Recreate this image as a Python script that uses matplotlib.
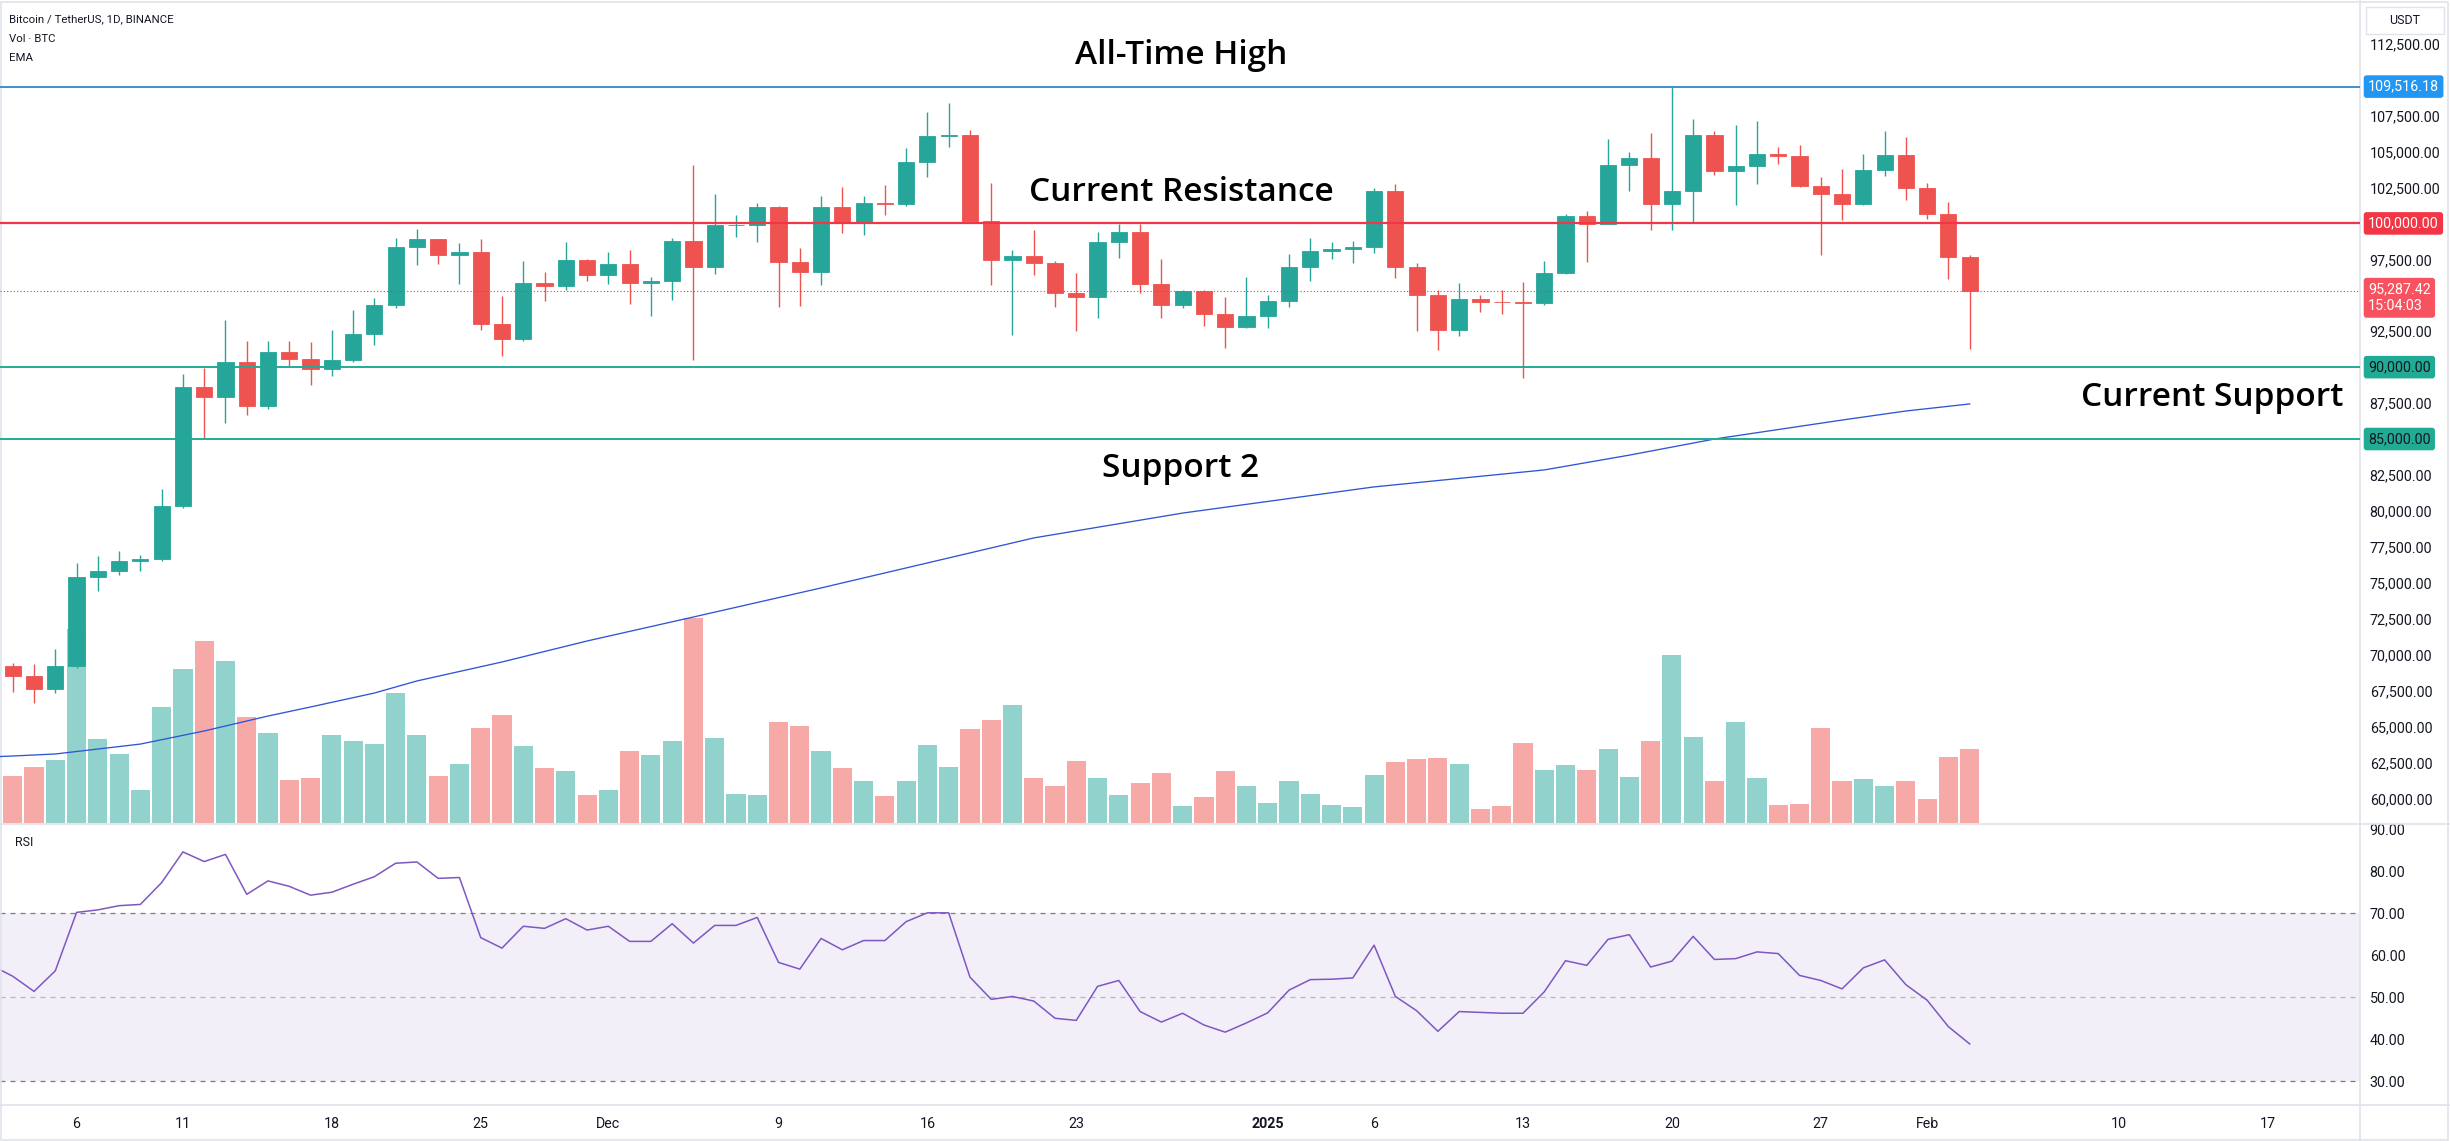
import matplotlib
matplotlib.use("Agg")
import matplotlib.pyplot as plt
import matplotlib.dates as mdates
from matplotlib.ticker import MultipleLocator, StrMethodFormatter, FuncFormatter
from matplotlib.lines import Line2D
from matplotlib.patches import Rectangle
import pandas as pd

plt.rcParams['font.family'] = ['Roboto', 'DejaVu Sans']

# ---------------- data ----------------
dates = pd.date_range('2024-11-03', '2025-02-03', freq='D')

opens = [69190, 68510, 67600, 69190, 75420, 75850, 76500, 76680, 80370, 88650, 87950, 90375, 87325, 91060,
         90580, 89850, 90465, 92310, 94290, 98350, 98890, 97780, 98010, 93010, 91965, 95860, 95640, 97460,
         96400, 97185, 95840, 96000, 98770, 96950, 99870, 99920, 101170, 97320, 96620, 101120, 100040, 101420,
         101370, 104300, 106060, 106140, 100200, 97460, 97760, 97220, 95190, 94880, 98680, 99400, 95790, 94300,
         95270, 93720, 92790,
         93580, 94590, 96980, 98100, 98240, 98360, 102240, 96950, 95040, 92550, 94720, 94550, 94500, 94480,
         96530, 100500, 99990, 104080, 104560, 101330, 102260, 106140, 103650, 103960, 104820, 104710, 102620,
         102080, 101330, 103730, 104730,
         102430, 100640, 97690]
closes = [68510, 67600, 69190, 75420, 75850, 76500, 76680, 80370, 88650, 87950, 90375, 87325, 91060, 90580,
          89850, 90465, 92310, 94290, 98350, 98890, 97780, 98010, 93010, 91965, 95860, 95640, 97460, 96400,
          97185, 95840, 96000, 98770, 96950, 99870, 99920, 101170, 97320, 96620, 101120, 100040, 101420, 101370,
          104300, 106060, 106140, 100200, 97460, 97760, 97220, 95190, 94880, 98680, 99400, 95790, 94300, 95270,
          93720, 92790, 93580,
          94590, 96980, 98100, 98240, 98360, 102240, 96950, 95040, 92550, 94720, 94550, 94500, 94480, 96530,
          100500, 99990, 104080, 104560, 101330, 102260, 106140, 103650, 103960, 104820, 104710, 102620, 102080,
          101330, 103730, 104730, 102430,
          100640, 97690, 95287.42]
highs = [69450, 69350, 70400, 76400, 76850, 77200, 76900, 81500, 89500, 89940, 93265, 91790, 91850, 91800,
         91760, 92600, 94000, 94830, 98970, 99590, 98900, 98650, 98930, 94970, 97400, 96650, 98700, 97500,
         98000, 98150, 96300, 99000, 104090, 102040, 100550, 101400, 101200, 98270, 101900, 102540, 101900,
         102650, 105250, 107780, 108350, 106470, 102800, 98150, 99540, 97400, 96540, 99400, 99960, 99960, 97540,
         95350, 95350, 94900, 96250,
         95000, 97840, 98980, 98730, 98800, 102480, 102730, 97260, 95350, 95840, 95000, 95400, 95900, 97370,
         100680, 100870, 105900, 104990, 106300, 109590, 107240, 106400, 106850, 107100, 105290, 105470, 103220,
         103780, 104800, 106460, 106030,
         102780, 101460, 97770]
lows = [67370, 66620, 67320, 69100, 74420, 75560, 75800, 76490, 80220, 85070, 86130, 86670, 87075, 90090,
        88740, 89380, 90390, 91540, 94100, 97120, 97200, 95790, 92600, 90790, 91820, 94600, 95350, 96000,
        95790, 94400, 93580, 94660, 90500, 96500, 99020, 98700, 94150, 94260, 95700, 99310, 99200, 100610,
        101230, 103230, 105320, 100000, 95700, 92230, 96400, 94200, 92520, 93400, 97600, 95140, 93400, 94100,
        92880, 91300, 92750,
        92750, 94200, 96000, 97530, 97250, 97920, 96180, 92500, 91200, 92200, 93830, 93700, 89260, 94300,
        96500, 97300, 99950, 102280, 99550, 99550, 100120, 103340, 101260, 102750, 104110, 102500, 97780,
        100270, 101250, 103300, 101600,
        100280, 96150, 91230]
# volume, thousand BTC
volume = [22.6, 26.7, 30.1, 93.0, 40.2, 33.1, 15.7, 55.5, 73.8, 87.2, 77.6, 50.7, 43.0, 20.6, 21.4, 42.1,
          39.2, 37.9, 62.2, 42.1, 22.6, 28.3, 45.6, 51.7, 37.0, 26.4, 24.8, 13.3,
          15.8, 34.4, 32.5, 39.2, 98.2, 40.8, 13.9, 13.3, 48.3, 46.6, 34.7, 26.4, 20.0, 13.0, 20.0, 37.3,
          26.9, 45.1, 49.3, 56.5, 21.4, 17.8, 29.6, 21.4, 13.3, 19.0, 24.0, 8.0, 12.3, 24.8, 17.6,
          9.4, 20.0, 13.9, 8.5, 7.5, 22.9, 29.1, 30.6, 31.0, 28.3, 6.6, 8.0, 38.2, 25.3, 27.7, 25.3, 35.4,
          21.9, 39.2, 80.6, 41.1, 20.0, 48.3, 21.4, 8.5, 9.1, 45.6, 20.0, 21.0, 17.6, 20.0,
          11.4, 31.5, 35.4]

rsi_dates = pd.date_range('2024-11-02', '2025-02-03', freq='D')
rsi = [57.6,
       55.0, 51.4, 56.3, 70.2, 70.8, 71.8, 72.1, 77.3, 84.6, 82.3, 84.0, 74.5, 77.7, 76.4, 74.3, 75.0,
       76.9, 78.7, 81.9, 82.2, 78.3, 78.5, 64.2, 61.7, 66.9, 66.4, 68.7, 66.0,
       66.9, 63.3, 63.3, 67.5, 62.9, 67.1, 67.1, 69.0, 58.3, 56.7, 64.0, 61.3, 63.5, 63.5, 68.0, 70.1,
       70.1, 54.8, 49.5, 50.2, 49.1, 45.0, 44.5, 52.6, 54.0, 46.6, 44.1, 46.2, 43.4, 41.7, 43.9,
       46.3, 51.7, 54.2, 54.3, 54.6, 62.4, 50.2, 46.8, 41.9, 46.6, 46.4, 46.2, 46.2, 51.3, 58.7, 57.6,
       63.8, 64.9, 57.2, 58.6, 64.5, 59.0, 59.2, 60.8, 60.4, 55.2, 54.0, 52.0, 57.0, 58.9, 53.0,
       49.3, 43.0, 38.9]

ema_dates = pd.to_datetime(['2024-11-02', '2024-11-03', '2024-11-05', '2024-11-09', '2024-11-12', '2024-11-15',
                            '2024-11-17', '2024-11-20', '2024-11-22', '2024-11-26', '2024-11-30', '2024-12-05',
                            '2024-12-11', '2024-12-21', '2024-12-28', '2025-01-06', '2025-01-14', '2025-01-18',
                            '2025-01-22', '2025-01-28', '2025-01-31', '2025-02-03'])
ema = [62890, 62950, 63090, 63780, 64690, 65730, 66360, 67330, 68170, 69490, 70950, 72620, 74640, 78120,
       79850, 81670, 82850, 83880, 85000, 86320, 86950, 87440]

tick_dates = pd.to_datetime(['2024-11-06', '2024-11-11', '2024-11-18', '2024-11-25', '2024-12-01', '2024-12-09',
                             '2024-12-16', '2024-12-23', '2025-01-01', '2025-01-06', '2025-01-13', '2025-01-20',
                             '2025-01-27', '2025-02-01', '2025-02-10', '2025-02-17'])
tick_labels = ['6', '11', '18', '25', 'Dec', '9', '16', '23', '2025', '6', '13', '20', '27', 'Feb', '10', '17']

ath_level = 109516.18
resistance_level = 100000
support1_level = 90000
support2_level = 85000
last_price = 95287.42
countdown = '15:04:03'

legend_lines = ['Bitcoin / TetherUS, 1D, BINANCE', 'Vol · BTC', 'EMA']

# ---------------- style ----------------
UP = '#26a69a'
DOWN = '#ef5350'
VOL_UP = '#92d2cc'
VOL_DOWN = '#f7a9a7'
TXT = '#131722'
SEP = '#e0e3eb'
W, H = 2450, 1141
PLOT_W = 2360
MAIN_BOT = 823
RSI_TOP, RSI_BOT = 825, 1104
AX_FS = 10.3

fig = plt.figure(figsize=(W / 100, H / 100), dpi=100)
fig.patch.set_facecolor('white')

main_rect = [0, (H - MAIN_BOT) / H, PLOT_W / W, MAIN_BOT / H]
ax_vol = fig.add_axes(main_rect)
ax = fig.add_axes(main_rect, sharex=ax_vol)
ax.set_zorder(2)
ax.patch.set_alpha(0)
ax_rsi = fig.add_axes([0, (H - RSI_BOT) / H, PLOT_W / W, (RSI_BOT - RSI_TOP) / H], sharex=ax)

x = mdates.date2num(dates)
up = [c >= o for o, c in zip(opens, closes)]
col = [UP if u else DOWN for u in up]
vcol = [VOL_UP if u else VOL_DOWN for u in up]

# volume
ax_vol.bar(x, volume, width=0.9, color=vcol, linewidth=0)
ax_vol.set_ylim(0, 395)
ax_vol.axis('off')

# candles
ax.vlines(x, lows, highs, colors=col, linewidth=1.0, zorder=3)
bottoms = [min(o, c) for o, c in zip(opens, closes)]
heights = [abs(c - o) for o, c in zip(opens, closes)]
ax.bar(x, heights, bottom=bottoms, width=0.76, color=col, edgecolor=col, linewidth=0.6, zorder=4)

# EMA
ax.plot(mdates.date2num(ema_dates), ema, color='#2f55d4', lw=0.95, zorder=3)

# horizontal levels
ax.axhline(ath_level, color='#3d8fd1', lw=1.4, zorder=5)
ax.axhline(resistance_level, color='#f23645', lw=1.6, zorder=5)
ax.axhline(support1_level, color='#22ab94', lw=1.4, zorder=5)
ax.axhline(support2_level, color='#22ab94', lw=1.4, zorder=5)
ax.axhline(last_price, color='#f23645', lw=0.8, ls=(0, (1, 2)), zorder=5)

x0 = mdates.date2num(pd.Timestamp('2024-11-03'))
ax.set_xlim(x0 - 0.6, x0 + 110.35)
ax.set_ylim(58289, 115541)

for s in ax.spines.values():
    s.set_visible(False)
for s in ax_rsi.spines.values():
    s.set_visible(False)

# price scale labels: those hidden behind the price tags / header box are left empty
tagged = [ath_level, last_price]


def price_fmt(v, pos):
    if v > 113000:
        return ''
    for t in tagged:
        if abs(v - t) < 1200:
            return ''
    return f'{v:,.2f}'


ax.yaxis.tick_right()
ax.yaxis.set_major_locator(MultipleLocator(2500))
ax.yaxis.set_major_formatter(FuncFormatter(price_fmt))
ax.tick_params(axis='y', length=0, pad=7, labelsize=AX_FS, labelcolor=TXT)
ax.tick_params(axis='x', bottom=False, labelbottom=False)

# annotations
ann_font = dict(fontsize=24, fontfamily=['Open Sans', 'DejaVu Sans'], fontweight='semibold', color='black',
                ha='center', va='center', zorder=7, transform=ax.transAxes)
ax.text(0.5004, 0.932, 'All-Time High', **ann_font)
ax.text(0.5004, 0.7667, 'Current Resistance', **ann_font)
ax.text(0.5004, 0.4313, 'Support 2', **ann_font)
ax.text(0.9373, 0.5176, 'Current Support', **ann_font)


def price_tag(y, text, fc, tc):
    ax.text(1.0034, y, text, transform=ax.get_yaxis_transform(), ha='left', va='center',
            fontsize=AX_FS, color=tc, clip_on=False, zorder=10,
            bbox=dict(boxstyle='round,pad=0.3,rounding_size=0.2', fc=fc, ec='none'))


price_tag(ath_level, f'{ath_level:,.2f}', '#2196f3', 'white')
price_tag(resistance_level, f'{resistance_level:,.2f}', '#f23645', 'white')
price_tag(support1_level, f'{support1_level:,.2f}', '#22ab94', TXT)
price_tag(support2_level, f'{support2_level:,.2f}', '#22ab94', TXT)
ax.annotate(f'{last_price:,.2f}\n{countdown}', xy=(1.0, last_price), xycoords=ax.get_yaxis_transform(),
            xytext=(8, 9), textcoords='offset pixels', ha='left', va='top', fontsize=AX_FS, color='white',
            linespacing=1.3, annotation_clip=False, zorder=10,
            bbox=dict(boxstyle='round,pad=0.3,rounding_size=0.2', fc='#f7525f', ec='none'))

# RSI pane
ax_rsi.axhspan(30, 70, color='#7e57c2', alpha=0.09, lw=0)
ax_rsi.axhline(70, color='#787b86', lw=0.9, ls=(0, (4, 4)))
ax_rsi.axhline(50, color='#787b86', lw=0.9, ls=(0, (4, 4)), alpha=0.5)
ax_rsi.axhline(30, color='#787b86', lw=0.9, ls=(0, (4, 4)))
ax_rsi.plot(mdates.date2num(rsi_dates), rsi, color='#7e57c2', lw=1.1)
ax_rsi.set_ylim(24.6, 91.0)
ax_rsi.yaxis.tick_right()
ax_rsi.yaxis.set_major_locator(MultipleLocator(10))
ax_rsi.yaxis.set_major_formatter(StrMethodFormatter('{x:.2f}'))
ax_rsi.tick_params(axis='y', length=0, pad=7, labelsize=AX_FS, labelcolor=TXT)
ax_rsi.set_xticks(mdates.date2num(tick_dates))
ax_rsi.set_xticklabels(tick_labels)
ax_rsi.tick_params(axis='x', length=0, pad=9, labelsize=AX_FS, labelcolor=TXT)
ax_rsi.get_xticklabels()[tick_labels.index('2025')].set_fontweight('bold')
ax_rsi.set_xlim(x0 - 0.6, x0 + 110.35)

# separators / frame
fig.add_artist(Line2D([0, 1], [(H - 824) / H] * 2, color=SEP, lw=1.2, transform=fig.transFigure))
fig.add_artist(Line2D([0, 1], [(H - 1105) / H] * 2, color=SEP, lw=1.2, transform=fig.transFigure))
fig.add_artist(Line2D([PLOT_W / W] * 2, [0, 1], color=SEP, lw=1.2, transform=fig.transFigure))
fig.add_artist(Rectangle((1 / W, 1 / H), 1 - 3 / W, 1 - 3 / H, fill=False, ec=SEP, lw=1.2,
                         transform=fig.transFigure))

# legend texts
for i, t in enumerate(legend_lines):
    fig.text(9 / W, 1 - (19 + 19.5 * i) / H, t, fontsize=8.2, color=TXT, va='center', ha='left')
fig.text(15 / W, 1 - 843 / H, 'RSI', fontsize=9, color=TXT, va='center', ha='left')

# USDT box
fig.add_artist(Rectangle((2366 / W, 1 - 34 / H), 78 / W, 27 / H, fc='white', ec=SEP, lw=1,
                         transform=fig.transFigure, zorder=20))
fig.text(2405 / W, 1 - 21 / H, 'USDT', fontsize=9, color=TXT, ha='center', va='center', zorder=21)

fig.savefig('out.png', dpi=100, facecolor='white')
